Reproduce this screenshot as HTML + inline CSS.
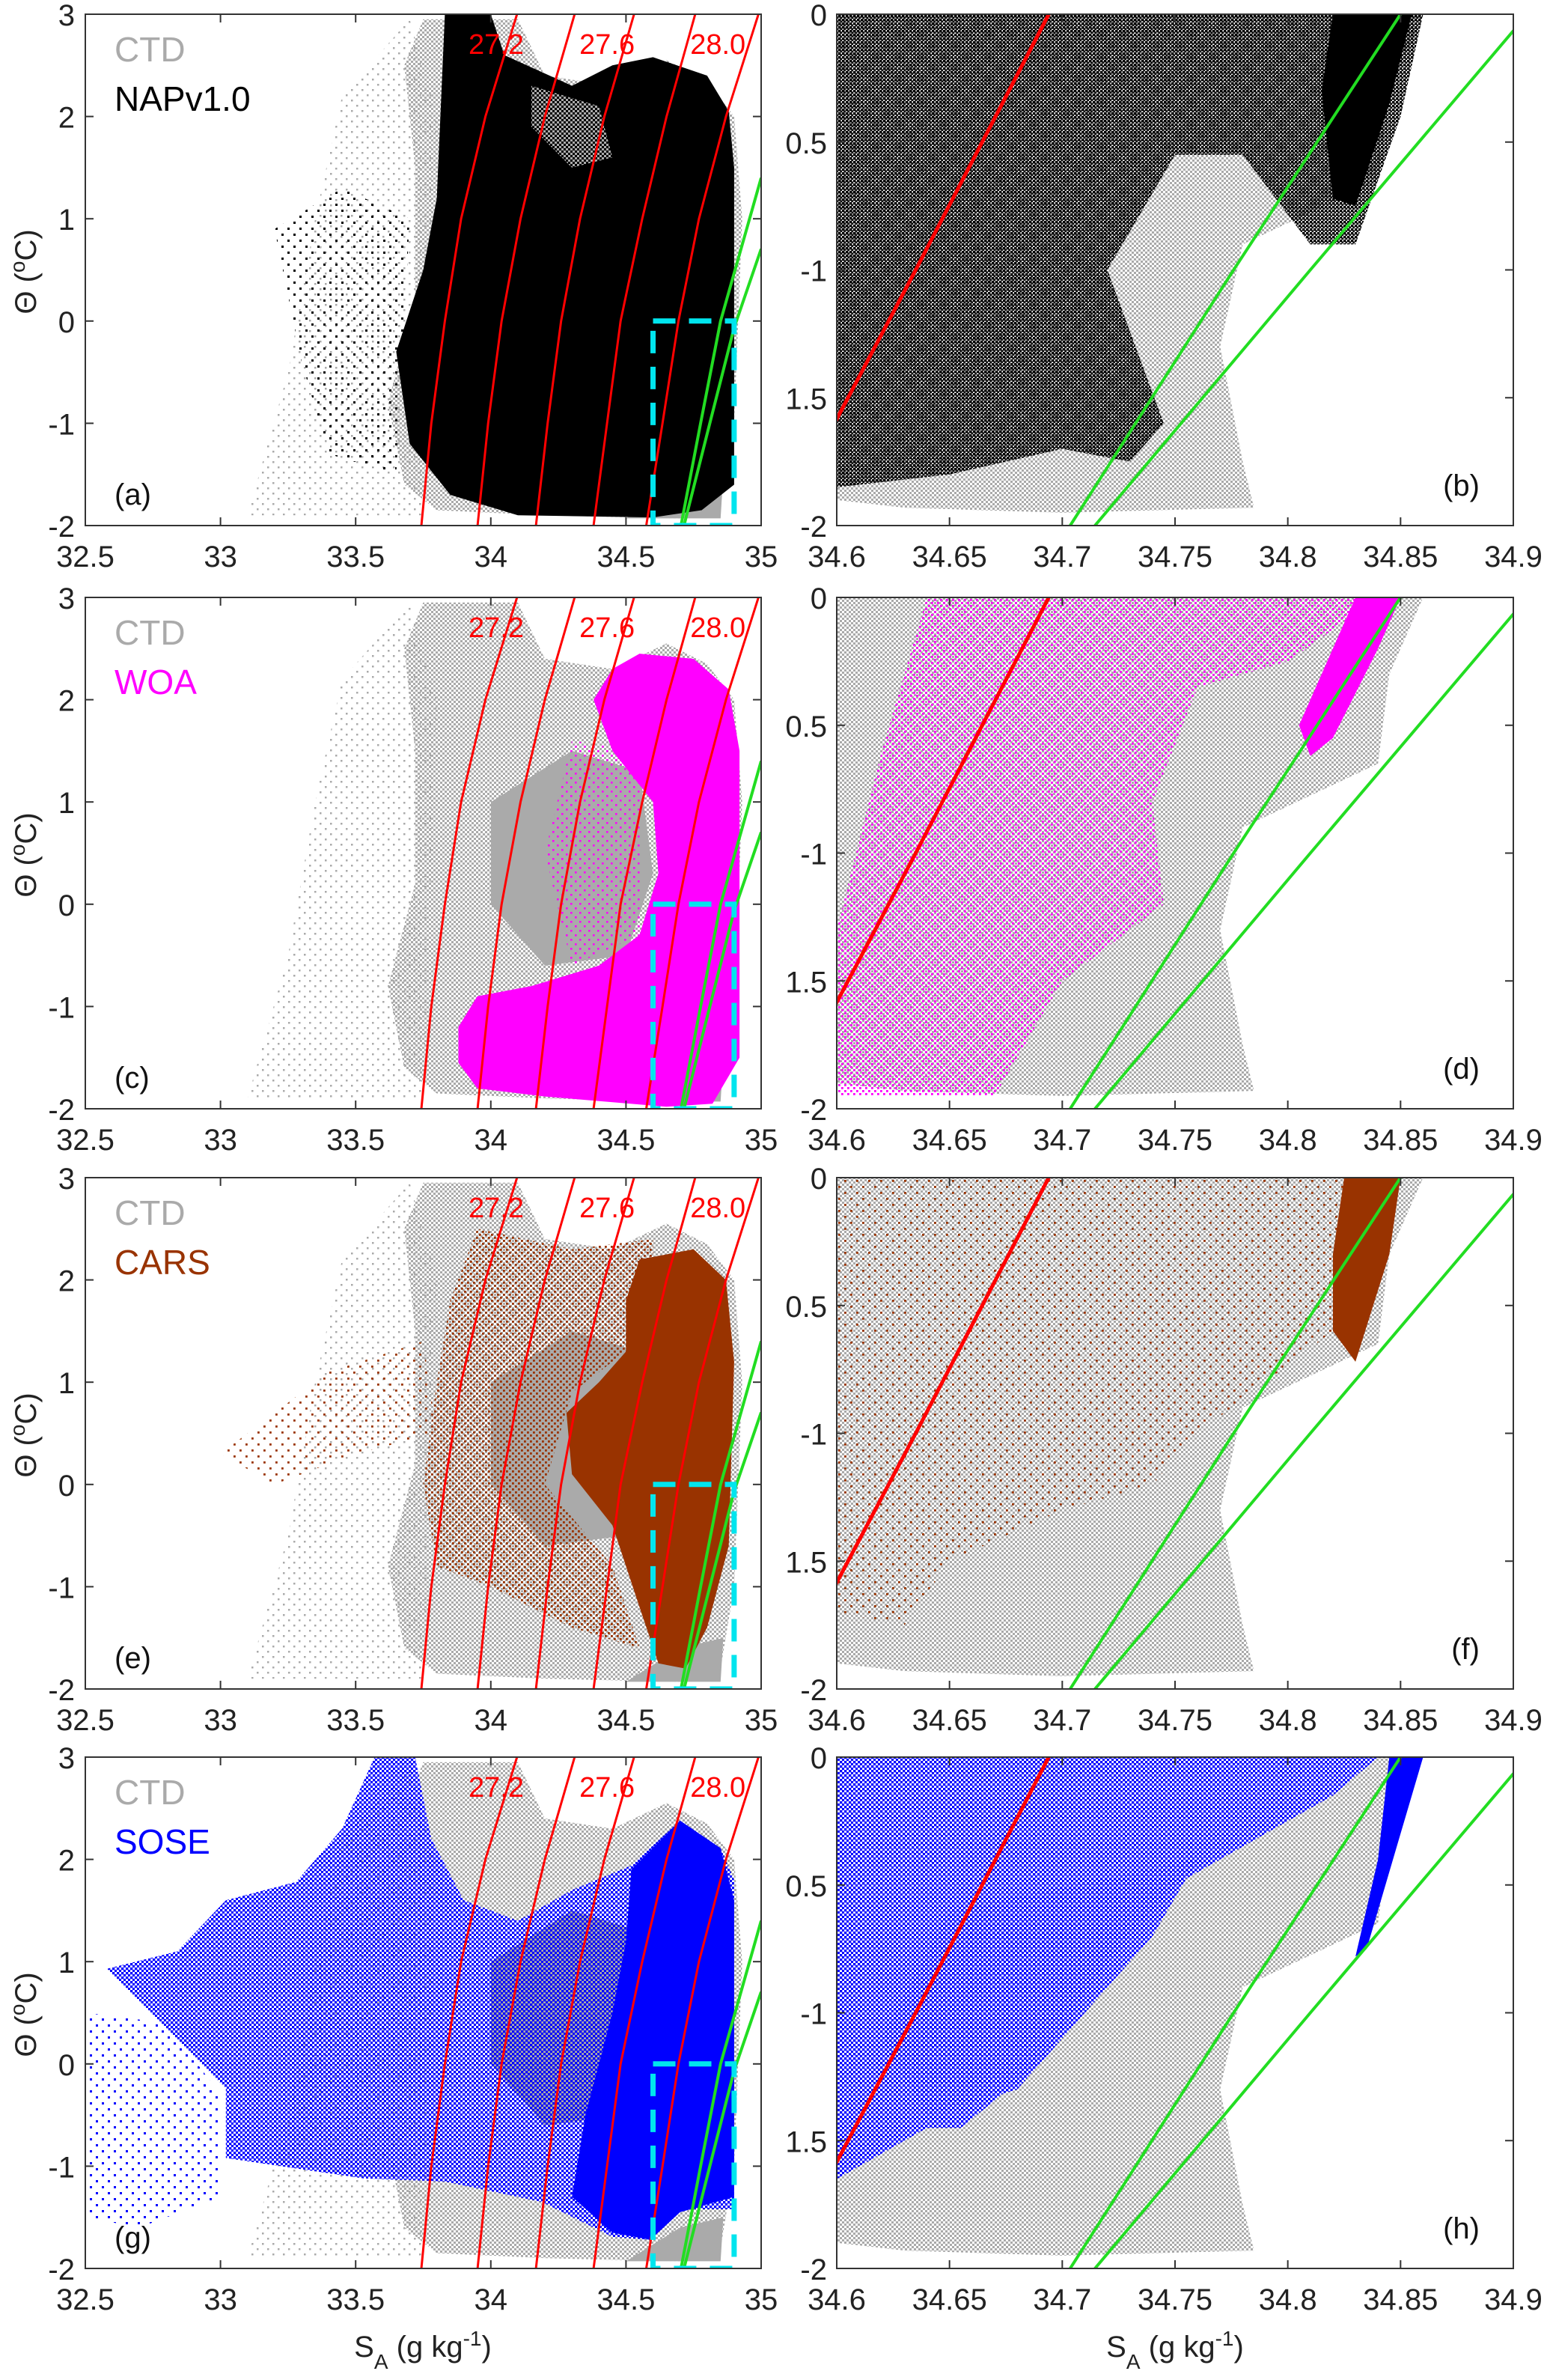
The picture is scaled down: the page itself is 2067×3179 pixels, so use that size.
<!DOCTYPE html>
<html><head><meta charset="utf-8"><title>TS diagrams</title>
<style>
html,body{margin:0;padding:0;background:#fff;}
svg{display:block;font-family:"Liberation Sans",Arial,sans-serif;}
</style></head>
<body>
<svg id="fig" width="2067" height="3179" viewBox="0 0 2067 3179" xmlns="http://www.w3.org/2000/svg">
<defs id="defs"></defs>
</svg>
<script>
// ---------- data (salinity S_A, conservative temperature Theta) ----------
const leftTicksS = [32.5, 33, 33.5, 34, 34.5, 35];
const leftTickLabels = ["32.5","33","33.5","34","34.5","35"];
const leftTicksT = [3, 2, 1, 0, -1, -2];
const leftTickTLabels = ["3","2","1","0","-1","-2"];
const rightTicksS = [34.6, 34.65, 34.7, 34.75, 34.8, 34.85, 34.9];
const rightTickLabels = ["34.6","34.65","34.7","34.75","34.8","34.85","34.9"];
const rightTicksT = [0, -0.5, -1, -1.5, -2];
const rightTickTLabels = ["0","0.5","-1","1.5","-2"];

const isoTheta = [-2, -1, 0, 1, 2, 3];
const iso1 = [33.743, 33.78, 33.83, 33.89, 33.98, 34.097];
const iso2 = [33.951, 33.99, 34.04, 34.11, 34.20, 34.31];
const iso3 = [34.167, 34.21, 34.26, 34.33, 34.42, 34.53];
const iso4 = [34.38, 34.43, 34.48, 34.56, 34.65, 34.756];
const iso5 = [34.575, 34.635, 34.694, 34.77, 34.87, 34.99];
const isoLabels = ["27.2", "27.6", "28.0"];
const isoLabelS = [34.02, 34.43, 34.84];

const green1S = [34.7035, 34.776, 34.85, 35.0];
const green1T = [-2, -1, 0, 1.4];
const green2S = [34.7145, 34.81, 34.9, 35.0];
const green2T = [-2, -1, -0.065, 0.705];

const boxS = [34.6, 34.9];
const boxT = [-2, 0];

// CTD (grey) clouds, left panels
const ctdLeftSparse = [[33.1,-1.9],[33.25,-0.5],[33.35,1.0],[33.45,2.2],[33.7,2.95],[33.8,2.0],[33.75,-1.9]];
const ctdLeftMed = [[33.75,2.95],[34.1,2.95],[34.2,2.4],[34.45,2.3],[34.65,2.55],[34.8,2.35],[34.9,2.0],[34.93,1.0],[34.9,-1.0],[34.85,-1.8],[34.7,-1.93],[34.2,-1.9],[33.8,-1.85],[33.68,-1.6],[33.62,-0.8],[33.72,0.2],[33.72,1.5],[33.68,2.5]];
const ctdLeftDense = [[34.0,1.0],[34.3,1.5],[34.55,1.3],[34.6,0.3],[34.5,-0.5],[34.2,-0.6],[34.0,0.0]];
const ctdLeftDense2 = [[34.5,-1.93],[34.85,-1.93],[34.86,-1.5],[34.7,-1.6]];
// CTD right panels
const ctdRightMed = [[34.6,0],[34.86,0],[34.845,-0.3],[34.84,-0.65],[34.78,-0.9],[34.77,-1.3],[34.78,-1.75],[34.785,-1.93],[34.7,-1.95],[34.63,-1.93],[34.6,-1.9]];

// NAPv1.0 (black)
const napLeftDense = [[33.83,3],[34.0,3],[34.05,2.6],[34.3,2.3],[34.45,2.5],[34.6,2.58],[34.8,2.4],[34.88,2.05],[34.9,1.5],[34.9,-1.6],[34.78,-1.85],[34.6,-1.92],[34.1,-1.9],[33.85,-1.7],[33.7,-1.2],[33.65,-0.3],[33.75,0.5],[33.8,1.2],[33.82,2.4]];
const napLeftSparse = [[33.2,0.9],[33.45,1.3],[33.7,1.0],[33.65,-1.5],[33.4,-1.3],[33.3,-0.4]];
const napLeftHole = [[34.15,2.3],[34.4,2.1],[34.45,1.6],[34.3,1.5],[34.15,1.9]];
const napRightMed = [[34.6,0],[34.86,0],[34.85,-0.4],[34.83,-0.9],[34.81,-0.9],[34.78,-0.55],[34.75,-0.55],[34.72,-1.0],[34.745,-1.6],[34.73,-1.75],[34.7,-1.7],[34.65,-1.8],[34.6,-1.85]];
const napRightDense = [[34.82,0],[34.855,0],[34.845,-0.35],[34.83,-0.75],[34.82,-0.72],[34.815,-0.3]];

// WOA (magenta)
const woaLeftDense = [[34.55,2.45],[34.75,2.4],[34.88,2.1],[34.92,1.5],[34.92,-1.5],[34.82,-1.95],[34.65,-1.98],[34.2,-1.88],[33.95,-1.8],[33.88,-1.55],[33.88,-1.2],[33.95,-0.9],[34.15,-0.8],[34.4,-0.6],[34.55,-0.3],[34.62,0.3],[34.6,1.0],[34.45,1.5],[34.38,2.0],[34.45,2.3]];
const woaLeftSparse = [[34.3,1.6],[34.55,1.5],[34.55,-0.3],[34.3,-0.6],[34.2,0.5]];
const woaRightMed = [[34.64,0],[34.84,0],[34.8,-0.25],[34.76,-0.35],[34.74,-0.8],[34.745,-1.2],[34.7,-1.5],[34.67,-1.95],[34.6,-1.95],[34.6,-1.3],[34.62,-0.6]];
const woaRightDense = [[34.83,0],[34.85,0],[34.84,-0.2],[34.82,-0.55],[34.81,-0.62],[34.805,-0.5],[34.82,-0.2]];

// CARS (brown)
const carsLeftDense = [[34.55,2.2],[34.75,2.3],[34.87,2.0],[34.9,1.2],[34.88,-0.6],[34.8,-1.4],[34.72,-1.8],[34.62,-1.75],[34.55,-1.2],[34.45,-0.4],[34.3,0.1],[34.28,0.7],[34.4,1.0],[34.5,1.3],[34.5,1.8]];
const carsLeftMed = [[33.95,2.5],[34.3,2.3],[34.6,2.4],[34.6,1.5],[34.3,0.9],[34.2,0.0],[34.45,-0.8],[34.55,-1.6],[34.3,-1.4],[34.0,-1.0],[33.8,-0.8],[33.75,0.0],[33.8,1.0],[33.85,1.8]];
const carsLeftSparse = [[33.0,0.3],[33.4,1.1],[33.75,1.4],[33.8,0.5],[33.5,0.3],[33.2,0.0]];
const carsRightMed = [[34.6,0],[34.85,0],[34.82,-0.6],[34.79,-0.8],[34.76,-1.0],[34.74,-1.2],[34.7,-1.3],[34.65,-1.5],[34.63,-1.75],[34.6,-1.7]];
const carsRightDense = [[34.825,0],[34.85,0],[34.845,-0.3],[34.83,-0.72],[34.82,-0.6],[34.82,-0.3]];

// SOSE (blue)
const soseLeftDense = [[34.52,1.9],[34.7,2.38],[34.85,2.11],[34.9,1.6],[34.9,-1.3],[34.7,-1.45],[34.59,-1.72],[34.45,-1.65],[34.3,-1.3],[34.35,-0.5],[34.45,0.5],[34.5,1.2]];
const soseLeftMed = [[33.57,3.0],[33.72,3.0],[33.78,2.2],[33.9,1.6],[34.1,1.4],[34.3,1.7],[34.52,1.94],[34.7,2.38],[34.85,2.11],[34.9,1.8],[34.9,-1.42],[34.7,-1.42],[34.59,-1.72],[34.45,-1.69],[34.19,-1.35],[33.83,-1.15],[33.53,-1.12],[33.02,-0.92],[33.02,-0.24],[32.77,0.43],[32.58,0.93],[32.84,1.1],[33.02,1.6],[33.28,1.78],[33.45,2.3]];
const soseLeftSparse = [[32.5,-1.5],[32.5,0.5],[32.8,0.4],[33.0,-0.3],[33.0,-1.3],[32.7,-1.6]];
const soseRightMed = [[34.6,0],[34.84,0],[34.82,-0.15],[34.79,-0.3],[34.75,-0.5],[34.72,-0.8],[34.69,-1.2],[34.655,-1.45],[34.64,-1.45],[34.6,-1.65]];
const soseRightBand = [[34.65,-0.6],[34.76,-0.4],[34.74,-0.7],[34.68,-1.3],[34.64,-1.4],[34.62,-1.1]];
const soseRightStreak = [[34.845,0],[34.86,0],[34.85,-0.3],[34.835,-0.75],[34.83,-0.78],[34.84,-0.4]];

const panelLetters = [["(a)","(b)"],["(c)","(d)"],["(e)","(f)"],["(g)","(h)"]];
const legendNames = ["NAPv1.0","WOA","CARS","SOSE"];
const legendColors = ["#000000","#ff00ff","#993300","#0000ff"];

// ---------- layout ----------
const NS = "http://www.w3.org/2000/svg";
const svg = document.getElementById('fig');
const defs = document.getElementById('defs');
const rowTops = [19, 798, 1573, 2347];
const PH = 683;
const LX0 = 114, LX1 = 1017, RX0 = 1118, RX1 = 2022;
const GREY = "#aaaaaa";

function el(tag, attrs, parent){
  const e = document.createElementNS(NS, tag);
  for (const k in attrs) e.setAttribute(k, attrs[k]);
  (parent||svg).appendChild(e);
  return e;
}
function makePattern(id, color, tile, dot){
  const p = el('pattern', {id:id, patternUnits:'userSpaceOnUse', width:tile, height:tile}, defs);
  el('rect', {x:0, y:0, width:dot, height:dot, fill:color}, p);
  el('rect', {x:tile/2, y:tile/2, width:dot, height:dot, fill:color}, p);
}
makePattern('gMed', GREY, 6, 3);
makePattern('gSparse', GREY, 14, 2.5);
makePattern('kMed', '#000', 5, 3.4);
makePattern('kSparse', '#000', 16, 3);
makePattern('mMed', '#ff00ff', 8, 2.8);
makePattern('mSparse', '#ff00ff', 12, 2.6);
makePattern('bMed', '#993300', 8, 2.8);
makePattern('bSparse', '#993300', 16, 2.8);
makePattern('uMed', '#0000ff', 6, 3.3);
makePattern('uSparse', '#0000ff', 16, 3);

function makeAxes(x0, x1, y0, sMin, sMax, tMin, tMax){
  return {
    x: s => x0 + (s - sMin) / (sMax - sMin) * (x1 - x0),
    y: t => y0 + (tMax - t) / (tMax - tMin) * PH
  };
}
function polyD(pts, ax){
  return pts.map((p,i)=>(i?'L':'M') + ax.x(p[0]).toFixed(1) + ',' + ax.y(p[1]).toFixed(1)).join('') + 'Z';
}
function lineD(sArr, tArr, ax){
  return sArr.map((s,i)=>(i?'L':'M') + ax.x(s).toFixed(1) + ',' + ax.y(tArr[i]).toFixed(1)).join('');
}
function cloud(g, pts, ax, fill, name){
  const p = el('path', {d: polyD(pts, ax), fill: fill}, g);
  
  
}

const isoSets = [iso1, iso2, iso3, iso4, iso5];
const leftData = [
  {dense:[napLeftDense], med:[], sparse:[napLeftSparse], denseFill:'#000', medFill:'url(#kMed)', sparseFill:'url(#kSparse)', hole:napLeftHole},
  {dense:[woaLeftDense], med:[], sparse:[woaLeftSparse], denseFill:'#ff00ff', medFill:'url(#mMed)', sparseFill:'url(#mSparse)'},
  {dense:[carsLeftDense], med:[carsLeftMed], sparse:[carsLeftSparse], denseFill:'#993300', medFill:'url(#bMed)', sparseFill:'url(#bSparse)'},
  {dense:[soseLeftDense], med:[soseLeftMed], sparse:[soseLeftSparse], denseFill:'#0000ff', medFill:'url(#uMed)', sparseFill:'url(#uSparse)'}
];
const rightData = [
  {med:[napRightMed], dense:[napRightDense], medFill:'url(#kMed)', denseFill:'#000'},
  {med:[woaRightMed], dense:[woaRightDense], medFill:'url(#mMed)', denseFill:'#ff00ff'},
  {med:[carsRightMed], dense:[carsRightDense], medFill:'url(#bSparse)', denseFill:'#993300'},
  {med:[soseRightMed, soseRightBand], dense:[soseRightStreak], medFill:'url(#uMed)', denseFill:'#0000ff'}
];

function text(parent, x, y, str, attrs, name){
  const t = el('text', Object.assign({x:x, y:y}, attrs), parent);
  t.textContent = str;
  
  
  return t;
}

for (let r = 0; r < 4; r++){
  const top = rowTops[r];
  // ---------------- left panel ----------------
  const gL = el('g', {});
  
  
  const cidL = 'clipL' + r;
  const cpL = el('clipPath', {id:cidL}, defs);
  el('rect', {x:LX0, y:top, width:LX1-LX0, height:PH}, cpL);
  const axL = makeAxes(LX0, LX1, top, 32.5, 35, -2, 3);
  const plotL = el('g', {'clip-path':'url(#'+cidL+')'}, gL);
  cloud(plotL, ctdLeftSparse, axL, 'url(#gSparse)', 'ctd-sparse-cloud');
  cloud(plotL, ctdLeftMed, axL, 'url(#gMed)', 'ctd-cloud');
  cloud(plotL, ctdLeftDense, axL, GREY, 'ctd-dense-cloud');
  cloud(plotL, ctdLeftDense2, axL, GREY, 'ctd-dense-cloud-bottom');
  const d = leftData[r];
  d.sparse.forEach(p => cloud(plotL, p, axL, d.sparseFill, 'model-sparse-cloud'));
  d.med.forEach(p => cloud(plotL, p, axL, d.medFill, 'model-cloud'));
  d.dense.forEach(p => cloud(plotL, p, axL, d.denseFill, 'model-dense-cloud'));
  if (d.hole) cloud(plotL, d.hole, axL, 'url(#gMed)', 'ctd-visible-patch');
  isoSets.forEach((iso, i) => {
    const l = el('path', {d: lineD(iso, isoTheta, axL), fill:'none', stroke:'#ff0000', 'stroke-width':3, 'stroke-linejoin':'round'}, plotL);
    
    
  });
  [[green1S,green1T],[green2S,green2T]].forEach((gl, i) => {
    const l = el('path', {d: lineD(gl[0], gl[1], axL), fill:'none', stroke:'#22dd22', 'stroke-width':4, 'stroke-linejoin':'round'}, plotL);
    
    
  });
  const bx = el('rect', {x:axL.x(boxS[0]), y:axL.y(boxT[1]), width:axL.x(boxS[1])-axL.x(boxS[0]), height:axL.y(boxT[0])-axL.y(boxT[1]), fill:'none', stroke:'#00e5ee', 'stroke-width':7, 'stroke-dasharray':'30 18'}, plotL);
  
  
  isoLabels.forEach((lab, i) => {
    text(gL, axL.x(isoLabelS[i]), top + 53, lab, {fill:'#ff0000', 'font-size':38, 'text-anchor':'middle'}, 'isopycnal-label-' + lab);
  });
  const fr = el('rect', {x:LX0, y:top, width:LX1-LX0, height:PH, fill:'none', stroke:'#333', 'stroke-width':2}, gL);
  
  
  leftTicksS.forEach((s, i) => {
    const x = axL.x(s);
    el('line', {x1:x, y1:top+PH, x2:x, y2:top+PH-11, stroke:'#333', 'stroke-width':2}, gL);
    el('line', {x1:x, y1:top, x2:x, y2:top+11, stroke:'#333', 'stroke-width':2}, gL);
    text(gL, x, top+PH+55, leftTickLabels[i], {'font-size':40, 'text-anchor':'middle', fill:'#222'}, 'x-tick-label');
  });
  leftTicksT.forEach((t, i) => {
    const y = axL.y(t);
    el('line', {x1:LX0, y1:y, x2:LX0+11, y2:y, stroke:'#333', 'stroke-width':2}, gL);
    el('line', {x1:LX1, y1:y, x2:LX1-11, y2:y, stroke:'#333', 'stroke-width':2}, gL);
    text(gL, 100, y+15, leftTickTLabels[i], {'font-size':40, 'text-anchor':'end', fill:'#222'}, 'y-tick-label');
  });
  const yt = el('text', {x:0, y:0, 'font-size':40, fill:'#222', 'text-anchor':'middle', transform:'translate(48,' + (top+344) + ') rotate(-90)'}, gL);
  
  
  yt.innerHTML = 'Θ (<tspan baseline-shift="super" font-size="28">o</tspan>C)';
  text(gL, 153, top+63, 'CTD', {'font-size':46, fill:GREY}, 'legend-ctd');
  text(gL, 153, top+129, legendNames[r], {'font-size':46, fill:legendColors[r]}, 'legend-' + legendNames[r].toLowerCase().replace('.', ''));
  text(gL, 153, top+655, panelLetters[r][0], {'font-size':40, fill:'#111'}, 'panel-label');

  // ---------------- right panel ----------------
  const gR = el('g', {});
  
  
  const cidR = 'clipR' + r;
  const cpR = el('clipPath', {id:cidR}, defs);
  el('rect', {x:RX0, y:top, width:RX1-RX0, height:PH}, cpR);
  const axR = makeAxes(RX0, RX1, top, 34.6, 34.9, -2, 0);
  const plotR = el('g', {'clip-path':'url(#'+cidR+')'}, gR);
  cloud(plotR, ctdRightMed, axR, 'url(#gMed)', 'ctd-cloud');
  const rd = rightData[r];
  rd.med.forEach(p => cloud(plotR, p, axR, rd.medFill, 'model-cloud'));
  rd.dense.forEach(p => cloud(plotR, p, axR, rd.denseFill, 'model-dense-cloud'));
  isoSets.forEach((iso, i) => {
    const l = el('path', {d: lineD(iso, isoTheta, axR), fill:'none', stroke:'#ff0000', 'stroke-width':5, 'stroke-linejoin':'round'}, plotR);
    
    
  });
  [[green1S,green1T],[green2S,green2T]].forEach((gl, i) => {
    const l = el('path', {d: lineD(gl[0], gl[1], axR), fill:'none', stroke:'#22dd22', 'stroke-width':4, 'stroke-linejoin':'round'}, plotR);
    
    
  });
  const frR = el('rect', {x:RX0, y:top, width:RX1-RX0, height:PH, fill:'none', stroke:'#333', 'stroke-width':2}, gR);
  
  
  rightTicksS.forEach((s, i) => {
    const x = axR.x(s);
    el('line', {x1:x, y1:top+PH, x2:x, y2:top+PH-11, stroke:'#333', 'stroke-width':2}, gR);
    el('line', {x1:x, y1:top, x2:x, y2:top+11, stroke:'#333', 'stroke-width':2}, gR);
    text(gR, x, top+PH+55, rightTickLabels[i], {'font-size':40, 'text-anchor':'middle', fill:'#222'}, 'x-tick-label');
  });
  rightTicksT.forEach((t, i) => {
    const y = axR.y(t);
    el('line', {x1:RX0, y1:y, x2:RX0+11, y2:y, stroke:'#333', 'stroke-width':2}, gR);
    el('line', {x1:RX1, y1:y, x2:RX1-11, y2:y, stroke:'#333', 'stroke-width':2}, gR);
    text(gR, 1105, y+15, rightTickTLabels[i], {'font-size':40, 'text-anchor':'end', fill:'#222'}, 'y-tick-label');
  });
  text(gR, RX1-45, top+643, panelLetters[r][1], {'font-size':40, fill:'#111', 'text-anchor':'end'}, 'panel-label');
}

[565, 1570].forEach((cx, i) => {
  const t = el('text', {x:cx, y:3148, 'font-size':40, fill:'#222', 'text-anchor':'middle'});
  
  
  t.innerHTML = 'S<tspan baseline-shift="sub" font-size="28">A</tspan> (g kg<tspan baseline-shift="super" font-size="28">-1</tspan>)';
});
</script>
</body></html>
